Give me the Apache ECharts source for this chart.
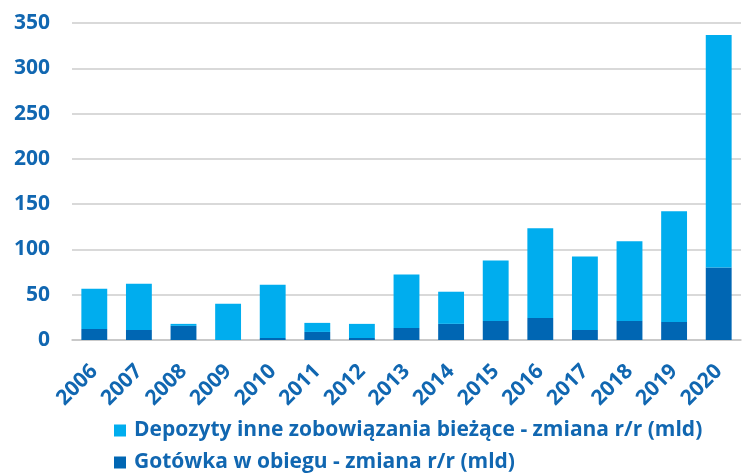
<!DOCTYPE html>
<html><head><meta charset="utf-8">
<script src="https://cdn.jsdelivr.net/npm/echarts@6/dist/echarts.min.js"></script>
<style>html,body{margin:0;padding:0;background:#fff}#c{width:745px;height:474px}</style>
</head><body><div id="c"></div>
<script>
const categories = ['2006','2007','2008','2009','2010','2011','2012','2013','2014','2015','2016','2017','2018','2019','2020'];
const gotowka = [12.2, 11.1, 15.6, 0, 2.2, 8.9, 2.2, 13.3, 17.8, 21.1, 24.4, 11.1, 21.1, 20, 80];
const depozyty = [44.5, 51.1, 2.2, 40, 58.9, 10, 15.6, 58.9, 35.5, 66.7, 98.9, 81.1, 87.8, 122.2, 256.7];
const yTicks = [0, 50, 100, 150, 200, 250, 300, 350];
const nameDep = 'Depozyty inne zobowiązania bieżące - zmiana r/r (mld)';
const nameGot = 'Gotówka w obiegu - zmiana r/r (mld)';
const txt = '#1167b1';
const font = 'Open Sans';
const legendText = {color: txt, fontSize: 21, fontWeight: 'bold', fontFamily: font, padding: [0, 0, 0, 3]};
const chart = echarts.init(document.getElementById('c'));
chart.setOption({
  animation: false,
  textStyle: {fontFamily: font},
  grid: {left: 72, right: 4, top: 23, bottom: 134},
  legend: [
    {left: 109, top: 415, data: [nameDep], itemWidth: 12, itemHeight: 12, icon: 'rect', textStyle: legendText},
    {left: 109, top: 447, data: [nameGot], itemWidth: 12, itemHeight: 12, icon: 'rect', textStyle: legendText}
  ],
  xAxis: {
    type: 'category', data: categories,
    axisLine: {lineStyle: {color: '#c4c4c4', width: 1.5}},
    axisTick: {show: false},
    axisLabel: {rotate: 45, margin: 28, color: txt, fontSize: 21, fontWeight: 'bold', fontFamily: font}
  },
  yAxis: {
    type: 'value', min: yTicks[0], max: yTicks[yTicks.length-1], interval: 50,
    axisLine: {show: false}, axisTick: {show: false},
    splitLine: {lineStyle: {color: '#cccccc', width: 1.5}},
    axisLabel: {color: txt, fontSize: 21, fontWeight: 'bold', margin: 22, fontFamily: font}
  },
  series: [
    {name: nameGot, type: 'bar', stack: 's', data: gotowka, barWidth: '58%', itemStyle: {color: '#0066b3'}},
    {name: nameDep, type: 'bar', stack: 's', data: depozyty, barWidth: '58%', itemStyle: {color: '#00adee'}}
  ]
});
</script></body></html>
